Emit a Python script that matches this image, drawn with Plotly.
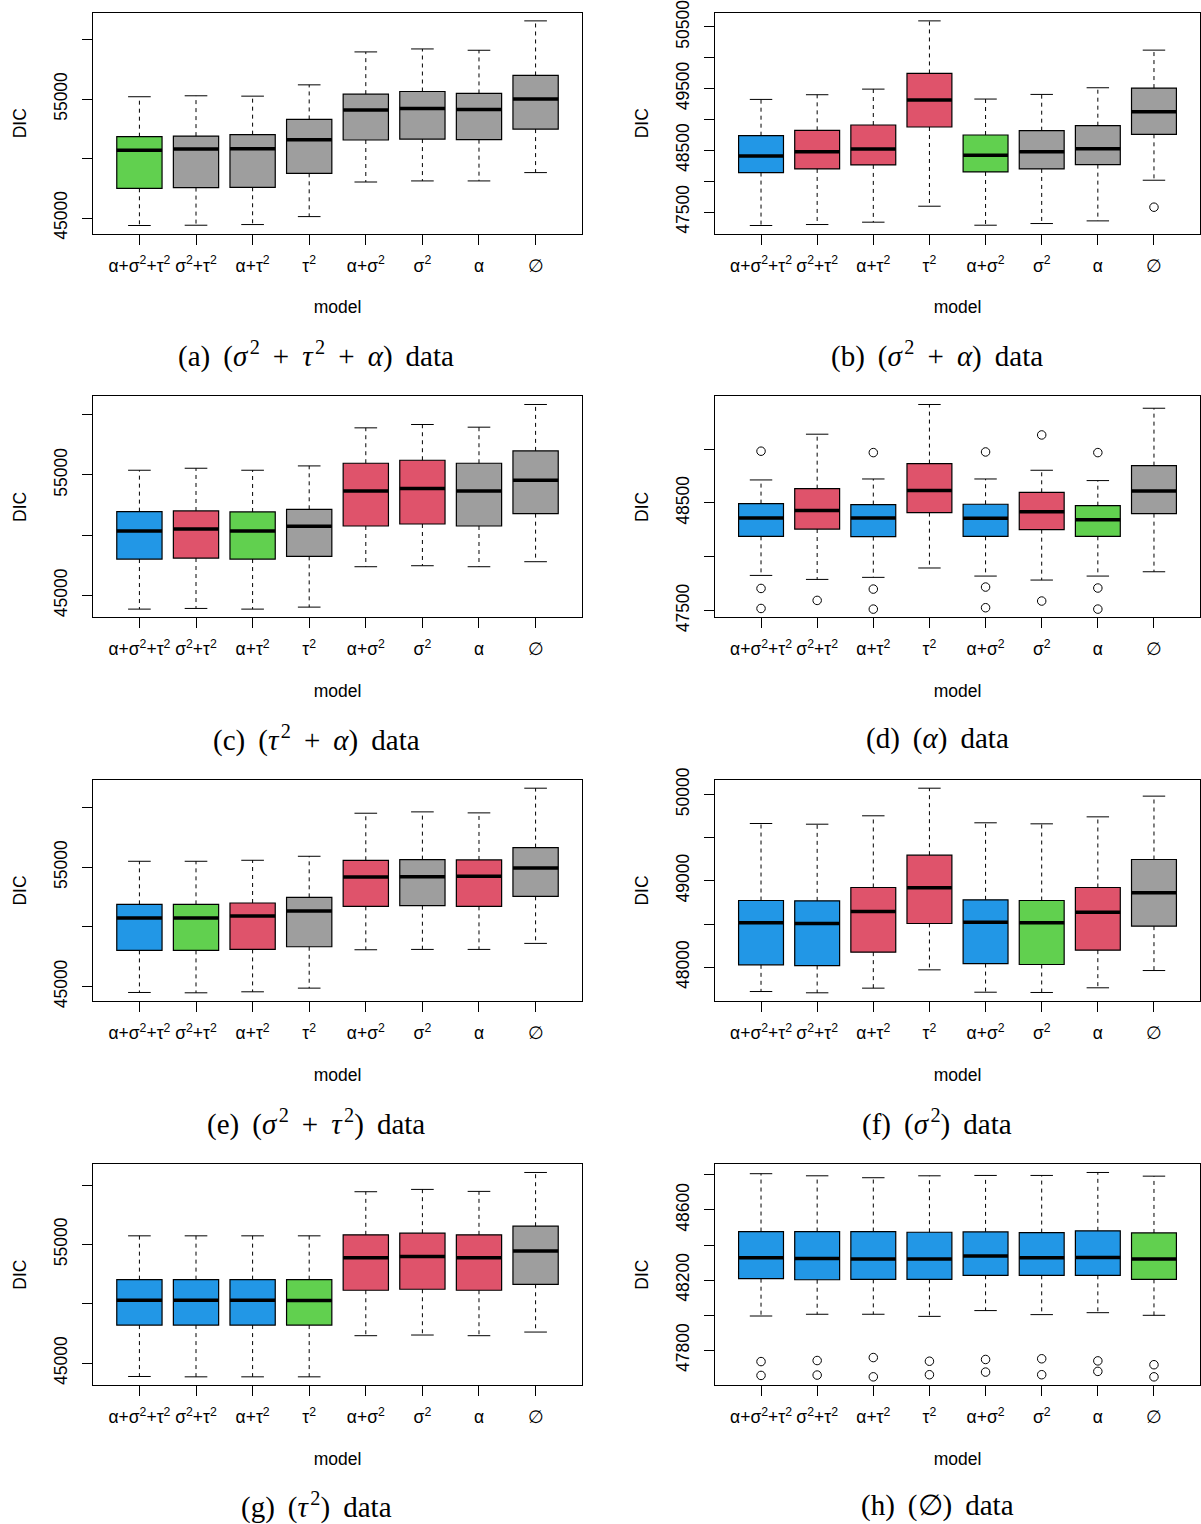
import plotly.graph_objects as go

# ---------------- data ----------------
models = ["α+σ<sup>2</sup>+τ<sup>2</sup>", "σ<sup>2</sup>+τ<sup>2</sup>", "α+τ<sup>2</sup>",
          "τ<sup>2</sup>", "α+σ<sup>2</sup>", "σ<sup>2</sup>", "α", "∅"]

BLUE, RED, GREEN, GRAY = "#2297E6", "#DF536B", "#61D04F", "#9E9E9E"

# (a) (sigma^2 + tau^2 + alpha) data
a_lower = [44370, 44395, 44450, 45120, 48030, 48120, 48120, 48820]
a_q1    = [47500, 47560, 47585, 48760, 51560, 51640, 51590, 52480]
a_med   = [50690, 50800, 50830, 51590, 54080, 54220, 54130, 55000]
a_q3    = [51840, 51890, 52010, 53290, 55420, 55640, 55480, 56990]
a_upper = [55200, 55280, 55250, 56200, 58970, 59220, 59110, 61580]
a_out   = [[], [], [], [], [], [], [], []]
a_fill  = [GREEN, GRAY, GRAY, GRAY, GRAY, GRAY, GRAY, GRAY]

# (b) (sigma^2 + alpha) data
b_lower = [47281, 47297, 47335, 47594, 47286, 47313, 47356, 48015]
b_q1    = [48139, 48198, 48263, 48878, 48149, 48198, 48268, 48759]
b_med   = [48408, 48478, 48522, 49314, 48419, 48478, 48527, 49126]
b_q3    = [48737, 48824, 48910, 49746, 48748, 48818, 48899, 49509]
b_upper = [49325, 49401, 49492, 50598, 49331, 49406, 49514, 50124]
b_out   = [[], [], [], [], [], [], [], [47578]]
b_fill  = [BLUE, RED, RED, RED, GREEN, GRAY, GRAY, GRAY]

# (c) (tau^2 + alpha) data
c_lower = [43877, 43932, 43877, 44043, 47391, 47474, 47391, 47806]
c_q1    = [48027, 48110, 48027, 48249, 50766, 50933, 50766, 51790]
c_med   = [50351, 50517, 50351, 50739, 53672, 53866, 53672, 54557]
c_q3    = [51956, 52012, 51929, 52150, 55968, 56217, 55968, 56992]
c_upper = [55387, 55553, 55387, 55747, 58901, 59178, 58957, 60838]
c_out   = [[], [], [], [], [], [], [], []]
c_fill  = [BLUE, RED, GREEN, GRAY, RED, RED, GRAY, GRAY]

# (d) (alpha) data
d_lower = [47827, 47790, 47809, 47896, 47821, 47784, 47821, 47861]
d_q1    = [48190, 48258, 48187, 48410, 48190, 48252, 48190, 48401]
d_med   = [48360, 48429, 48360, 48615, 48357, 48419, 48345, 48612]
d_q3    = [48494, 48633, 48485, 48866, 48488, 48599, 48475, 48847]
d_upper = [48714, 49139, 48723, 49415, 48723, 48804, 48708, 49380]
d_out   = [[48981, 47706, 47520], [47595], [48968, 47700, 47514], [],
           [48974, 47719, 47527], [49132, 47589], [48968, 47710, 47514], []]
d_fill  = [BLUE, RED, BLUE, RED, BLUE, RED, GREEN, GRAY]

# (e) (sigma^2 + tau^2) data
e_lower = [44507, 44479, 44563, 44871, 48089, 48117, 48117, 48621]
e_q1    = [48033, 48033, 48117, 48341, 51726, 51782, 51726, 52566]
e_med   = [50747, 50747, 50915, 51335, 54189, 54217, 54245, 54944]
e_q3    = [51894, 51894, 52006, 52482, 55588, 55644, 55616, 56651]
e_upper = [55504, 55504, 55588, 55923, 59533, 59645, 59561, 61631]
e_out   = [[], [], [], [], [], [], [], []]
e_fill  = [BLUE, GREEN, RED, GRAY, RED, GRAY, RED, GRAY]

# (f) (sigma^2) data
f_lower = [47718, 47703, 47757, 47969, 47710, 47707, 47761, 47961]
f_q1    = [48027, 48019, 48174, 48506, 48042, 48031, 48197, 48475]
f_med   = [48514, 48506, 48645, 48919, 48521, 48514, 48637, 48861]
f_q3    = [48772, 48768, 48923, 49297, 48780, 48772, 48923, 49247]
f_upper = [49664, 49656, 49753, 50073, 49672, 49660, 49741, 49981]
f_out   = [[], [], [], [], [], [], [], []]
f_fill  = [BLUE, BLUE, RED, RED, BLUE, GREEN, RED, GRAY]

# (g) (tau^2) data
g_lower = [43884, 43856, 43856, 43856, 47319, 47375, 47319, 47626]
g_q1    = [48213, 48213, 48213, 48213, 51146, 51229, 51146, 51648]
g_med   = [50308, 50308, 50308, 50280, 53883, 53995, 53883, 54441]
g_q3    = [52039, 52039, 52039, 52039, 55810, 55950, 55810, 56536]
g_upper = [55726, 55726, 55726, 55726, 59441, 59636, 59469, 61061]
g_out   = [[], [], [], [], [], [], [], []]
g_fill  = [BLUE, BLUE, BLUE, GREEN, RED, RED, RED, GRAY]

# (h) (empty) data
h_lower = [47995, 48005, 48005, 47993, 48026, 48003, 48014, 47999]
h_q1    = [48208, 48202, 48204, 48204, 48227, 48227, 48227, 48204]
h_med   = [48327, 48323, 48320, 48321, 48337, 48327, 48329, 48321]
h_q3    = [48477, 48477, 48477, 48473, 48475, 48471, 48481, 48469]
h_upper = [48807, 48795, 48784, 48795, 48797, 48797, 48814, 48793]
h_out   = [[47735, 47656], [47741, 47658], [47758, 47648], [47737, 47660],
           [47747, 47675], [47751, 47660], [47739, 47679], [47717, 47648]]
h_fill  = [BLUE, BLUE, BLUE, BLUE, BLUE, BLUE, BLUE, GREEN]

# labelled y ticks and the spacing of all (labelled + unlabelled) y ticks
big_labels, big_step = [45000, 55000], 5000
b_labels, b_step = [47500, 48500, 49500, 50500], 500
d_labels, d_step = [47500, 48500], 500
f_labels, f_step = [48000, 49000, 50000], 500
h_labels, h_step = [47800, 48200, 48600], 200

SP = " \u2009"      # word space + thin space (LaTeX-like spacing)
TH = "\u200a"       # hair space before superscripts
captions = [
    f"(a){SP}(<i>σ</i>{TH}<sup>2</sup>{SP}+{SP}<i>τ</i>{TH}<sup>2</sup>{SP}+{SP}<i>α</i>){SP}data",
    f"(b){SP}(<i>σ</i>{TH}<sup>2</sup>{SP}+{SP}<i>α</i>){SP}data",
    f"(c){SP}(<i>τ</i>{TH}<sup>2</sup>{SP}+{SP}<i>α</i>){SP}data",
    f"(d){SP}(<i>α</i>){SP}data",
    f"(e){SP}(<i>σ</i>{TH}<sup>2</sup>{SP}+{SP}<i>τ</i>{TH}<sup>2</sup>){SP}data",
    f"(f){SP}(<i>σ</i>{TH}<sup>2</sup>){SP}data",
    f"(g){SP}(<i>τ</i>{TH}<sup>2</sup>){SP}data",
    f"(h){SP}(∅){SP}data",
]

panels = [
    (a_lower, a_q1, a_med, a_q3, a_upper, a_out, a_fill, big_labels, big_step),
    (b_lower, b_q1, b_med, b_q3, b_upper, b_out, b_fill, b_labels, b_step),
    (c_lower, c_q1, c_med, c_q3, c_upper, c_out, c_fill, big_labels, big_step),
    (d_lower, d_q1, d_med, d_q3, d_upper, d_out, d_fill, d_labels, d_step),
    (e_lower, e_q1, e_med, e_q3, e_upper, e_out, e_fill, big_labels, big_step),
    (f_lower, f_q1, f_med, f_q3, f_upper, f_out, f_fill, f_labels, f_step),
    (g_lower, g_q1, g_med, g_q3, g_upper, g_out, g_fill, big_labels, big_step),
    (h_lower, h_q1, h_med, h_q3, h_upper, h_out, h_fill, h_labels, h_step),
]

# ---------------- layout geometry ----------------
W, H = 1201, 1524
col_x = [(93, 582), (715, 1200)]
row_y = [(12.7, 233.7), (396.3, 617.3), (780, 1001), (1164.3, 1385)]
cap_x = [316, 937]
cap_y = [354, 738, 1122, 1505]

FONT = "Liberation Sans, Arial, sans-serif"
FS = 17.5
BOXW = 0.8
STAPLE = 0.4

fig = go.Figure()
layout_axes = {}

for p, (lo, q1, md, q3, up, outs, fills, tv, step) in enumerate(panels):
    row, col = divmod(p, 2)
    xa = "x" if p == 0 else f"x{p+1}"
    ya = "y" if p == 0 else f"y{p+1}"
    xs = list(range(1, len(models) + 1))

    # whiskers (dashed) and staples
    wx, wy, sx, sy = [], [], [], []
    for i, k in enumerate(xs):
        wx += [k, k, None, k, k, None]
        wy += [q3[i], up[i], None, q1[i], lo[i], None]
        sx += [k - STAPLE / 2, k + STAPLE / 2, None, k - STAPLE / 2, k + STAPLE / 2, None]
        sy += [up[i], up[i], None, lo[i], lo[i], None]
    fig.add_trace(go.Scatter(x=wx, y=wy, mode="lines", xaxis=xa, yaxis=ya,
                             line=dict(color="black", width=1, dash="4px,4px"),
                             showlegend=False, hoverinfo="skip"))
    fig.add_trace(go.Scatter(x=sx, y=sy, mode="lines", xaxis=xa, yaxis=ya,
                             line=dict(color="black", width=1),
                             showlegend=False, hoverinfo="skip"))

    # boxes
    for i, k in enumerate(xs):
        fig.add_trace(go.Box(x=[k], q1=[q1[i]], median=[md[i]], q3=[q3[i]],
                             lowerfence=[q1[i]], upperfence=[q3[i]],
                             width=BOXW, fillcolor=fills[i],
                             line=dict(color="black", width=1.2),
                             boxpoints=False, whiskerwidth=0,
                             xaxis=xa, yaxis=ya, showlegend=False))

    # medians (thick)
    mx, my = [], []
    for i, k in enumerate(xs):
        mx += [k - BOXW / 2, k + BOXW / 2, None]
        my += [md[i], md[i], None]
    fig.add_trace(go.Scatter(x=mx, y=my, mode="lines", xaxis=xa, yaxis=ya,
                             line=dict(color="black", width=3.5),
                             showlegend=False, hoverinfo="skip"))

    # outliers
    ox, oy = [], []
    for i, k in enumerate(xs):
        for v in outs[i]:
            ox.append(k)
            oy.append(v)
    if ox:
        fig.add_trace(go.Scatter(x=ox, y=oy, mode="markers", xaxis=xa, yaxis=ya,
                                 marker=dict(symbol="circle-open", size=8.5,
                                             color="black", line=dict(width=1)),
                                 showlegend=False, hoverinfo="skip"))

    allv = lo + up + [v for o in outs for v in o]
    vmin, vmax = min(allv), max(allv)
    pad = 0.04 * (vmax - vmin)

    x0, x1 = col_x[col]
    ytop, ybot = row_y[row]
    key = "" if p == 0 else str(p + 1)
    layout_axes[f"xaxis{key}"] = dict(
        domain=[x0 / W, x1 / W], anchor=ya, range=[0.18, len(models) + 0.82],
        automargin=False, ticklabeloverflow="allow",
        tickvals=xs, ticktext=models, ticks="outside", ticklen=10, tickwidth=1,
        tickcolor="black", showline=True, mirror=True, linecolor="black", linewidth=1,
        showgrid=False, zeroline=False, ticklabelstandoff=6,
        tickfont=dict(family=FONT, size=FS, color="black"),
        title=dict(text="model", standoff=26, font=dict(family=FONT, size=FS, color="black")),
    )
    layout_axes[f"yaxis{key}"] = dict(
        domain=[1 - ybot / H, 1 - ytop / H], anchor=xa, range=[vmin - pad, vmax + pad],
        automargin=False, ticklabeloverflow="allow",
        tickvals=tv, ticktext=[str(v) for v in tv], tickangle=-90,
        ticks="outside", ticklen=10, tickwidth=1,
        tickcolor="black", showline=True, mirror=True, linecolor="black", linewidth=1,
        showgrid=False, zeroline=False, ticklabelstandoff=8,
        minor=dict(tick0=tv[0], dtick=step, ticks="outside", ticklen=10, tickwidth=1,
                   tickcolor="black", showgrid=False),
        tickfont=dict(family=FONT, size=FS, color="black"),
        title=dict(text="DIC", standoff=19, font=dict(family=FONT, size=FS, color="black")),
    )

annotations = []
for p, cap in enumerate(captions):
    row, col = divmod(p, 2)
    annotations.append(dict(text=cap, x=cap_x[col] / W, y=1 - cap_y[row] / H,
                            xref="paper", yref="paper", showarrow=False,
                            xanchor="center", yanchor="middle",
                            font=dict(family="Liberation Serif, DejaVu Serif, serif",
                                      size=29, color="black")))

fig.update_layout(
    width=W, height=H, autosize=False,
    margin=dict(l=0, r=0, t=0, b=0, autoexpand=False),
    paper_bgcolor="white", plot_bgcolor="white",
    boxmode="overlay", showlegend=False,
    annotations=annotations,
    **layout_axes,
)

fig.write_html("out.html", config={"displayModeBar": False},
               post_script="document.body.style.margin='0';document.body.style.overflow='hidden';")
